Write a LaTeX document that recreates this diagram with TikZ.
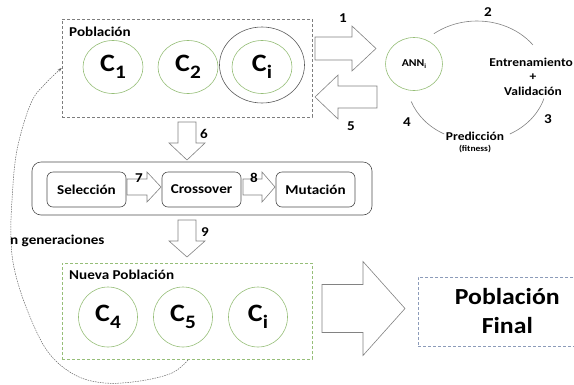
\documentclass[tikz,border=0pt]{standalone}
\usepackage{fontspec}
\setmainfont{Carlito}[FakeStretch=1.12]
\usetikzlibrary{shapes.geometric}
\usetikzlibrary{arrows.meta}

\definecolor{ellgreen}{RGB}{150,190,120}
\definecolor{boxgray}{RGB}{125,125,125}
\definecolor{finalblue}{RGB}{140,155,185}
\definecolor{linegray}{RGB}{130,130,130}

\newcommand{\chrom}[1]{C\raisebox{-7pt}{\fontsize{19}{19}\selectfont #1}}

% block arrows: tail, length, body half, head half, head length
\newcommand{\hblock}[5]{%
  \draw[blockarrow] (#1) ++(0,{-(#3)}) -- ++({(#2)-(#5)},0) -- ++(0,{(#3)-(#4)})
    -- ++({#5},{#4}) -- ++({-(#5)},{#4}) -- ++(0,{(#3)-(#4)}) -- ++({(#5)-(#2)},0) -- cycle;}
\newcommand{\vblock}[5]{%
  \draw[blockarrow] (#1) ++({-(#3)},0) -- ++(0,{(#2)-(#5)}) -- ++({(#3)-(#4)},0)
    -- ++({#4},{#5}) -- ++({#4},{-(#5)}) -- ++({(#3)-(#4)},0) -- ++(0,{(#5)-(#2)}) -- cycle;}

\tikzset{
  chrom/.style={ellipse, draw=ellgreen, line width=0.6pt, minimum width=60pt, minimum height=53pt, inner sep=0pt, font=\fontsize{25}{25}\selectfont\bfseries},
  popbox/.style={draw=boxgray, line width=0.6pt, dash pattern=on 3pt off 2pt},
  newbox/.style={draw=ellgreen, line width=0.6pt, dash pattern=on 3pt off 2pt},
  finalbox/.style={draw=finalblue, line width=0.6pt, dash pattern=on 3pt off 2pt, align=center, font=\fontsize{23}{29}\selectfont\bfseries},
  opsbox/.style={draw=black!70, line width=0.6pt, rounded corners=9pt},
  stepbox/.style={draw=black!70, line width=0.6pt, rounded corners=6pt, minimum width=79pt, minimum height=35pt, font=\fontsize{13.5}{13.5}\selectfont\bfseries},
  lbl/.style={inner sep=0pt, font=\fontsize{13.5}{13.5}\selectfont\bfseries},
  num/.style={inner sep=0pt, font=\fontsize{13.5}{13.5}\selectfont\bfseries},
  cyc/.style={inner sep=0pt, font=\fontsize{12}{12}\selectfont\bfseries},
  blockarrow/.style={draw=linegray, fill=white, line width=0.6pt},
  cycline/.style={draw=linegray, line width=0.6pt},
  feedback/.style={draw=black!60, line width=0.5pt, dash pattern=on 1.5pt off 1pt, -{Stealth[length=4pt,width=3pt]}}
}

\begin{document}
\begin{tikzpicture}[x=1pt,y=-1pt]
\useasboundingbox (0,0) rectangle (574,384);

% Poblacion
\node[popbox, minimum width=250pt, minimum height=98pt] (pob) at (187,68) {};
\node[lbl, anchor=base west] (pobtxt) at (69,36) {Población};
\node[chrom] (c1) at (113,67) {\chrom{1}};
\node[chrom] (c2) at (188,67) {\chrom{2}};
\node[chrom] (ci) at (262,67) {\chrom{i}};
\node[ellipse, draw=black!65, line width=0.6pt, minimum width=85pt, minimum height=76pt] (ciout) at (262,65) {};

% ANN and its cycle
\node[chrom, minimum width=57pt, font=\fontsize{10.5}{10.5}\selectfont\bfseries] (ann) at (414,64) {ANN\raisebox{-2pt}{\fontsize{6.5}{6.5}\selectfont i}};
\coordinate (cyc) at (477,81);
\draw[cycline] (cyc) ++(128:70pt and 60pt) arc[start angle=128, end angle=37, x radius=70pt, y radius=60pt];
\draw[cycline] (cyc) ++(-17:70pt and 60pt) arc[start angle=-17, end angle=-62, x radius=70pt, y radius=60pt];
\draw[cycline] (cyc) ++(-118:70pt and 60pt) arc[start angle=-118, end angle=-160, x radius=70pt, y radius=60pt];
\node[cyc, anchor=east] (train) at (573,62) {Entrenamiento};
\node[cyc] (plus) at (533,77) {+};
\node[cyc] (valid) at (533,91) {Validación};
\node[cyc] (pred) at (475,136) {Predicción};
\node[inner sep=0pt, font=\fontsize{8.5}{8.5}\selectfont\bfseries] (fit) at (475,149) {(fitness)};

% arrows between population and ANN
\coordinate (t1) at (315,48.5);
\coordinate (t5) at (377,97);
\hblock{t1}{61}{11.5}{22.5}{24}
\hblock{t5}{-62}{11}{22}{-23}
\node[num] (n1) at (343,18) {1};
\node[num] (n2) at (488,12) {2};
\node[num] (n3) at (548,119) {3};
\node[num] (n4) at (407,122) {4};
\node[num] (n5) at (351,126) {5};

% genetic operators
\coordinate (t6) at (187,122);
\vblock{t6}{38}{9}{18}{17}
\node[num] (n6) at (204,134) {6};
\node[opsbox, minimum width=340pt, minimum height=53pt] (ops) at (202,188.5) {};
\node[stepbox] (sel) at (86.5,189.5) {Selección};
\node[stepbox] (cross) at (201.5,189.5) {Crossover};
\node[stepbox] (mut) at (315.5,189.5) {Mutación};
\coordinate (t7) at (127,187);
\coordinate (t8) at (243,187);
\hblock{t7}{34}{8}{15}{14}
\hblock{t8}{32}{8}{15}{13}
\node[num] (n7) at (139,178) {7};
\node[num] (n8) at (254,178) {8};
\coordinate (t9) at (187,220);
\vblock{t9}{37}{9}{18}{16}
\node[num] (n9) at (205,232) {9};

% nueva poblacion
\node[newbox, minimum width=250pt, minimum height=96pt] (nueva) at (187,311) {};
\node[lbl, anchor=base west] (nuevatxt) at (69,279) {Nueva Población};
\node[chrom, minimum width=59pt, minimum height=60pt] (c4) at (108,317) {\chrom{4}};
\node[chrom, minimum width=59pt, minimum height=60pt] (c5) at (183,317) {\chrom{5}};
\node[chrom, minimum width=59pt, minimum height=60pt] (cj) at (258,317) {\chrom{i}};

% final
\coordinate (tf) at (322,308.5);
\hblock{tf}{83}{24}{47}{42}
\node[finalbox, anchor=west, minimum width=178pt, minimum height=69pt] (final) at (418,311.5) {Población\\Final};

% loop back
\coordinate (fb) at (188,360);
\draw[feedback] plot[smooth, tension=0.6] coordinates {(fb) (172,373) (140,381) (105,383) (75,375) (48,352) (28,312) (15,272) (11,240) (12,200) (17,150) (31,103) (46,83) (pob.west)};
\node[lbl, anchor=west] (ngen) at (10,241) {n generaciones};

\end{tikzpicture}
\end{document}
